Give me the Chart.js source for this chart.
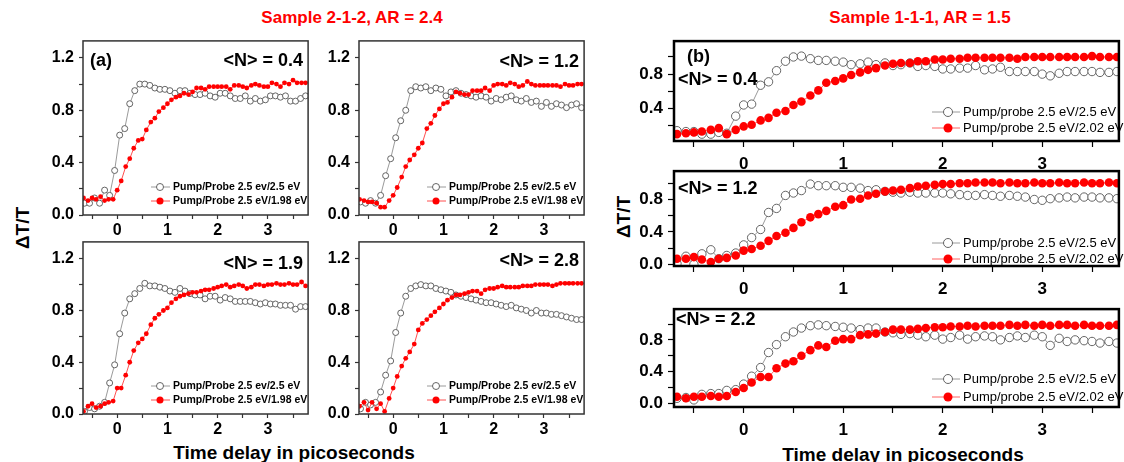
<!DOCTYPE html>
<html>
<head>
<meta charset="utf-8">
<script src="https://cdn.jsdelivr.net/npm/chart.js@4.4.0/dist/chart.umd.min.js"></script>
<style>
  body { margin: 0; background: #fff; width: 1124px; height: 462px; position: relative; overflow: hidden;
         font-family: Arial, "Liberation Sans", sans-serif; }
  .box { position: absolute; }
  .title { position: absolute; color: #f00; font-weight: bold; font-size: 17px; line-height: 1;
           transform: translate(-50%, -50%); white-space: nowrap; }
  .xlab { position: absolute; font-weight: bold; font-size: 19px; line-height: 1;
          transform: translate(-50%, -50%); white-space: nowrap; }
  .ylab { position: absolute; font-weight: bold; font-size: 19px; line-height: 1;
          transform: translate(-50%, -50%) rotate(-90deg); white-space: nowrap; }
</style>
</head>
<body>
<div class="title" style="left:352px; top:17px">Sample 2-1-2, AR = 2.4</div>
<div class="title" style="left:920px; top:17px">Sample 1-1-1, AR = 1.5</div>
<div class="ylab" style="left:22px; top:228px">ΔT/T</div>
<div class="ylab" style="left:623px; top:217px">ΔT/T</div>
<div class="xlab" style="left:294px; top:452px">Time delay in picoseconds</div>
<div class="xlab" style="left:903px; top:454px">Time delay in picoseconds</div>

<script>
// time grids (ps)
const leftOpenTimes = [-0.65, -0.55, -0.45, -0.35, -0.25, -0.15, -0.05, 0.05, 0.15, 0.25,
  0.35, 0.45, 0.55, 0.65, 0.75, 0.85, 0.95, 1.05, 1.15, 1.25,
  1.35, 1.45, 1.55, 1.65, 1.75, 1.85, 1.95, 2.05, 2.15, 2.25,
  2.35, 2.45, 2.55, 2.65, 2.75, 2.85, 2.95, 3.05, 3.15, 3.25,
  3.35, 3.45, 3.55, 3.65, 3.75];
const stepTimes = [-0.67, -0.58, -0.5, -0.42, -0.33, -0.25, -0.17, -0.08,
  0, 0.08, 0.17, 0.25, 0.33, 0.42, 0.5, 0.58, 0.67, 0.75, 0.83, 0.92,
  1, 1.08, 1.17, 1.25, 1.33, 1.42, 1.5, 1.58, 1.67, 1.75, 1.83, 1.92,
  2, 2.08, 2.17, 2.25, 2.33, 2.42, 2.5, 2.58, 2.67, 2.75, 2.83, 2.92,
  3, 3.08, 3.17, 3.25, 3.33, 3.42, 3.5, 3.58, 3.67, 3.75];

// Sample 2-1-2 (left, panel a)
const open04 = [0.09, 0.09, 0.13, 0.09, 0.19, 0.15, 0.34, 0.61, 0.66, 0.85,
  0.95, 1.00, 1.00, 0.99, 0.97, 0.96, 0.96, 0.95, 0.93, 0.95,
  0.95, 0.93, 0.92, 0.92, 0.93, 0.91, 0.90, 0.93, 0.93, 0.91,
  0.89, 0.89, 0.91, 0.87, 0.89, 0.87, 0.88, 0.91, 0.91, 0.90,
  0.91, 0.87, 0.87, 0.89, 0.91];
const red04 = [0.13, 0.11, 0.13, 0.12, 0.14, 0.11, 0.12, 0.12,
  0.19, 0.26, 0.37, 0.43, 0.51, 0.57, 0.58, 0.65, 0.71, 0.74, 0.79, 0.82,
  0.85, 0.88, 0.90, 0.91, 0.93, 0.92, 0.94, 0.97, 0.97, 0.96, 0.98, 0.98,
  0.98, 0.98, 0.98, 0.96, 0.99, 0.99, 0.98, 0.97, 0.99, 1.00, 0.99, 0.98,
  0.98, 1.01, 1.00, 0.98, 1.01, 1.00, 1.03, 1.01, 1.01, 1.01];
const open12 = [0.10, 0.09, 0.11, 0.09, 0.15, 0.30, 0.43, 0.59, 0.72, 0.80,
  0.95, 0.98, 0.97, 0.98, 0.95, 0.97, 0.96, 0.91, 0.94, 0.95,
  0.93, 0.92, 0.91, 0.90, 0.91, 0.90, 0.87, 0.89, 0.88, 0.90,
  0.91, 0.88, 0.87, 0.89, 0.86, 0.87, 0.83, 0.86, 0.83, 0.85,
  0.84, 0.82, 0.84, 0.85, 0.82];
const red12 = [0.12, 0.11, 0.10, 0.10, 0.09, 0.06, 0.06, 0.11,
  0.15, 0.21, 0.29, 0.37, 0.42, 0.46, 0.51, 0.55, 0.66, 0.70, 0.76, 0.81,
  0.85, 0.86, 0.90, 0.94, 0.93, 0.92, 0.92, 0.95, 0.95, 0.95, 0.97, 0.95,
  0.99, 1.00, 1.00, 0.99, 1.01, 1.00, 0.98, 0.99, 1.02, 1.00, 0.99, 0.99,
  0.99, 0.99, 0.99, 0.99, 0.98, 1.00, 0.99, 0.99, 1.00, 1.00];
const open19 = [0.02, 0.05, 0.04, 0.06, 0.09, 0.24, 0.38, 0.62, 0.78, 0.89,
  0.93, 0.97, 1.01, 0.99, 0.99, 0.98, 0.97, 0.95, 0.94, 0.97,
  0.95, 0.93, 0.92, 0.92, 0.89, 0.91, 0.91, 0.88, 0.90, 0.89,
  0.87, 0.87, 0.87, 0.87, 0.86, 0.85, 0.86, 0.85, 0.85, 0.84,
  0.84, 0.84, 0.81, 0.83, 0.83];
const red19 = [0.02, 0.06, 0.08, 0.05, 0.06, 0.08, 0.09, 0.10,
  0.20, 0.20, 0.30, 0.40, 0.49, 0.55, 0.58, 0.62, 0.69, 0.74, 0.77, 0.80,
  0.82, 0.86, 0.89, 0.91, 0.92, 0.93, 0.94, 0.94, 0.95, 0.96, 0.96, 0.97,
  0.98, 0.99, 1.00, 0.98, 0.99, 1.00, 0.99, 0.97, 0.98, 1.00, 1.00, 0.99,
  1.00, 1.00, 1.01, 1.00, 1.00, 1.01, 1.00, 1.00, 1.02, 0.99];
const open28 = [0.04, 0.09, 0.07, 0.09, 0.17, 0.30, 0.41, 0.63, 0.78, 0.91,
  0.97, 0.99, 1.00, 0.99, 0.99, 0.97, 0.96, 0.95, 0.94, 0.92,
  0.91, 0.90, 0.89, 0.88, 0.87, 0.86, 0.86, 0.85, 0.84, 0.83,
  0.84, 0.82, 0.81, 0.80, 0.78, 0.80, 0.78, 0.78, 0.77, 0.77,
  0.76, 0.75, 0.74, 0.73, 0.73];
const red28 = [0.06, 0.09, 0.03, 0.09, 0.04, 0.08, 0.02, 0.12,
  0.20, 0.29, 0.37, 0.43, 0.48, 0.54, 0.65, 0.70, 0.73, 0.76, 0.79, 0.82,
  0.85, 0.88, 0.90, 0.92, 0.92, 0.93, 0.94, 0.95, 0.95, 0.93, 0.96, 0.97,
  0.97, 0.98, 0.99, 0.98, 0.98, 0.98, 0.98, 0.99, 0.99, 0.99, 1.00, 1.00,
  1.00, 1.00, 0.99, 1.00, 1.01, 1.01, 1.01, 1.01, 1.01, 1.01];

// Sample 1-1-1 (right, panel b)
const openB04 = [0.14, 0.13, 0.13, 0.10, 0.10, 0.12, 0.11, 0.31,
  0.44, 0.45, 0.67, 0.71, 0.84, 0.95, 1.00, 1.01, 0.98, 0.96, 0.96, 0.95,
  0.94, 0.91, 0.92, 0.94, 0.91, 0.93, 0.90, 0.91, 0.93, 0.89, 0.90, 0.89,
  0.86, 0.86, 0.87, 0.87, 0.90, 0.85, 0.86, 0.88, 0.83, 0.83, 0.83, 0.83,
  0.80, 0.78, 0.81, 0.83, 0.83, 0.83, 0.83, 0.82, 0.82, 0.83];
const redB04 = [0.10, 0.11, 0.12, 0.13, 0.15, 0.17, 0.10, 0.15,
  0.19, 0.21, 0.26, 0.29, 0.35, 0.37, 0.44, 0.48, 0.55, 0.61, 0.70, 0.72,
  0.75, 0.79, 0.82, 0.85, 0.87, 0.90, 0.92, 0.93, 0.93, 0.95, 0.95, 0.97,
  0.97, 0.98, 0.98, 0.99, 0.99, 0.99, 0.99, 0.99, 0.99, 0.98, 1.00, 1.00,
  1.00, 1.00, 1.00, 1.00, 1.00, 1.00, 1.01, 1.00, 1.00, 1.00];
const openB12 = [0.01, 0.10, 0.00, 0.13, 0.18, 0.07, 0.11, 0.14,
  0.24, 0.33, 0.43, 0.64, 0.69, 0.85, 0.88, 0.91, 0.99, 0.97, 0.97, 0.97,
  0.95, 0.95, 0.94, 0.91, 0.92, 0.90, 0.89, 0.88, 0.89, 0.88, 0.88, 0.88,
  0.88, 0.87, 0.86, 0.85, 0.85, 0.86, 0.85, 0.84, 0.85, 0.84, 0.83, 0.80,
  0.79, 0.81, 0.82, 0.83, 0.82, 0.83, 0.83, 0.82, 0.82, 0.81];
const redB12 = [0.07, 0.07, 0.09, 0.06, 0.03, 0.07, 0.08, 0.11,
  0.17, 0.19, 0.23, 0.29, 0.35, 0.39, 0.45, 0.52, 0.58, 0.62, 0.66, 0.71,
  0.73, 0.80, 0.81, 0.85, 0.87, 0.90, 0.91, 0.92, 0.94, 0.96, 0.97, 0.98,
  0.99, 0.99, 1.00, 1.00, 1.01, 1.01, 1.01, 1.00, 1.01, 1.00, 1.00, 1.01,
  1.00, 1.00, 1.01, 1.00, 1.00, 1.01, 1.00, 1.00, 1.01, 1.00];
const openB22 = [0.06, 0.07, 0.04, 0.11, 0.12, 0.12, 0.16, 0.17,
  0.24, 0.34, 0.45, 0.64, 0.74, 0.84, 0.90, 0.95, 0.98, 0.99, 0.98, 0.97,
  0.96, 0.95, 0.93, 0.95, 0.95, 0.90, 0.89, 0.87, 0.88, 0.86, 0.84, 0.86,
  0.81, 0.83, 0.86, 0.81, 0.84, 0.85, 0.84, 0.80, 0.83, 0.85, 0.83, 0.86,
  0.84, 0.73, 0.82, 0.78, 0.80, 0.79, 0.78, 0.76, 0.78, 0.76];
const redB22 = [0.08, 0.06, 0.08, 0.08, 0.09, 0.08, 0.09, 0.14,
  0.19, 0.26, 0.33, 0.33, 0.44, 0.50, 0.53, 0.60, 0.67, 0.73, 0.71, 0.79,
  0.81, 0.81, 0.86, 0.87, 0.88, 0.90, 0.93, 0.93, 0.93, 0.94, 0.95, 0.96,
  0.96, 0.97, 0.97, 0.98, 0.97, 0.98, 0.98, 0.98, 0.99, 0.98, 0.99, 0.98,
  0.99, 0.98, 0.99, 0.99, 0.98, 0.99, 0.98, 0.98, 0.98, 0.99];

const leftLegend = ['Pump/Probe 2.5 ev/2.5 eV', 'Pump/Probe 2.5 eV/1.98 eV'];
const rightLegend = ['Pump/probe 2.5 eV/2.5 eV', 'Pump/probe 2.5 eV/2.02 eV'];

const AXW = 48, PAD = 3;

function zip(xs, ys) {
    return xs.map((x, i) => ({ x: x, y: ys[i] }));
}

function near(v, step) {
    return Math.abs(v / step - Math.round(v / step)) < 1e-6;
}

// frame, panel labels and inset legend
const panelPlugin = {
    id: 'panel',
    afterDraw(chart) {
        const o = chart.options.plugins.panel;
        const a = chart.chartArea;
        const ctx = chart.ctx;
        ctx.save();
        ctx.lineWidth = o.frameWidth;
        ctx.strokeStyle = o.frameColor;
        ctx.strokeRect(a.left, a.top, a.right - a.left, a.bottom - a.top);

        ctx.fillStyle = '#000';
        ctx.textBaseline = 'middle';
        o.notes.forEach(n => {
            ctx.font = n.font;
            ctx.textAlign = n.right ? 'right' : 'left';
            ctx.fillText(n.text, n.right ? a.right - n.dx : a.left + n.dx, a.top + n.dy);
        });

        const lg = o.legend;
        const tx = a.left + lg.dx;
        lg.rows.forEach((row, i) => {
            const ds = chart.data.datasets[lg.order[i]];
            const y = a.bottom - row;
            ctx.strokeStyle = ds.borderColor;
            ctx.lineWidth = ds.borderWidth;
            ctx.beginPath();
            ctx.moveTo(tx - lg.lineFrom, y);
            ctx.lineTo(tx - lg.lineTo, y);
            ctx.stroke();
            ctx.beginPath();
            ctx.arc(tx - lg.mark, y, lg.radius, 0, Math.PI * 2);
            ctx.fillStyle = ds.pointBackgroundColor;
            ctx.fill();
            if (ds.pointBorderWidth > 0) {
                ctx.lineWidth = ds.pointBorderWidth;
                ctx.strokeStyle = ds.pointBorderColor;
                ctx.stroke();
            }
            ctx.fillStyle = '#000';
            ctx.font = lg.font;
            ctx.textAlign = 'left';
            ctx.fillText(lg.labels[i], tx, y);
        });
        ctx.restore();
    }
};

function makePanel(p) {
    const w = p.R - p.L + AXW + PAD;
    const h = p.B - p.T + p.axh + PAD;
    const box = document.createElement('div');
    box.className = 'box';
    box.style.left = (p.L - AXW) + 'px';
    box.style.top = (p.T - PAD) + 'px';
    box.style.width = w + 'px';
    box.style.height = h + 'px';
    const canvas = document.createElement('canvas');
    canvas.width = w;
    canvas.height = h;
    box.appendChild(canvas);
    document.body.appendChild(box);

    const s = p.style;
    new Chart(canvas.getContext('2d'), {
        type: 'line',
        data: {
            datasets: [{
                label: p.legend[1],
                data: zip(p.redX, p.red),
                order: 0,
                borderColor: s.redLine,
                borderWidth: 0.9,
                pointRadius: s.redR,
                pointBackgroundColor: '#ff0000',
                pointBorderColor: '#ff0000',
                pointBorderWidth: 0,
                tension: 0
            }, {
                label: p.legend[0],
                data: zip(p.openX, p.open),
                order: 1,
                borderColor: '#808080',
                borderWidth: 0.8,
                pointRadius: s.openR,
                pointBackgroundColor: '#ffffff',
                pointBorderColor: '#555555',
                pointBorderWidth: 0.9,
                tension: 0
            }]
        },
        options: {
            responsive: false,
            animation: false,
            layout: { padding: { top: PAD, right: PAD, left: 0, bottom: 0 } },
            plugins: {
                legend: { display: false },
                tooltip: { enabled: false },
                panel: {
                    frameWidth: s.frameWidth,
                    frameColor: s.frameColor,
                    notes: p.notes,
                    legend: {
                        labels: p.legend,
                        order: [1, 0],
                        rows: p.legendRows,
                        dx: s.legendDx,
                        lineFrom: s.lineFrom,
                        lineTo: 3,
                        mark: s.mark,
                        radius: s.legendR,
                        font: s.legendFont
                    }
                }
            },
            scales: {
                x: {
                    type: 'linear',
                    min: p.xMin,
                    max: p.xMax,
                    afterFit: sc => { sc.height = p.axh; sc.paddingLeft = 0; sc.paddingRight = 0; },
                    ticks: {
                        stepSize: 0.5,
                        includeBounds: false,
                        autoSkip: false,
                        maxRotation: 0,
                        padding: s.xPad,
                        color: '#000',
                        font: { size: s.tickSize, weight: 'bold', family: 'Arial, "Liberation Sans"' },
                        callback: v => near(v, 1) ? String(Math.round(v)) : ''
                    },
                    grid: { drawOnChartArea: false, tickLength: s.tickLen, tickColor: s.frameColor, tickWidth: 1.2 },
                    border: { display: false }
                },
                y: {
                    min: p.yMin,
                    max: p.yMax,
                    afterFit: sc => { sc.width = AXW; sc.paddingTop = 0; sc.paddingBottom = 0; },
                    ticks: {
                        stepSize: 0.2,
                        includeBounds: false,
                        autoSkip: false,
                        padding: 5,
                        color: '#000',
                        font: { size: s.tickSize, weight: 'bold', family: 'Arial, "Liberation Sans"' },
                        callback: v => near(v, 0.4) ? (Math.abs(v) < 1e-9 ? '0.0' : v.toFixed(1)) : ''
                    },
                    grid: { drawOnChartArea: false, tickLength: s.tickLen, tickColor: s.frameColor, tickWidth: 1.2 },
                    border: { display: false }
                }
            }
        },
        plugins: [panelPlugin]
    });
}

const leftStyle = {
    openR: 3, redR: 2.4, redLine: '#ff3b3b', frameWidth: 1.5, frameColor: '#333',
    tickLen: 4, xPad: 2, tickSize: 16, legendDx: 90, lineFrom: 22, mark: 13,
    legendR: 3.5, legendFont: 'bold 10.5px Arial, "Liberation Sans"'
};
const rightStyle = {
    openR: 4.2, redR: 4.3, redLine: '#ff5050', frameWidth: 2.5, frameColor: '#000',
    tickLen: 6, xPad: 7, tickSize: 17, legendDx: 289, lineFrom: 31, mark: 15,
    legendR: 4.5, legendFont: '13px Arial, "Liberation Sans"'
};
const bigFont = 'bold 18px Arial, "Liberation Sans"';

const leftPanels = [
    { L: 83, T: 39, R: 310, B: 215, open: open04, red: red04,
      notes: [{ text: '(a)', dx: 7, dy: 20, font: bigFont }, { text: '<N> = 0.4', dx: 5, dy: 20, right: true, font: bigFont }] },
    { L: 359, T: 39, R: 586, B: 215, open: open12, red: red12,
      notes: [{ text: '<N> = 1.2', dx: 5, dy: 21, right: true, font: bigFont }] },
    { L: 83, T: 240, R: 310, B: 414, open: open19, red: red19,
      notes: [{ text: '<N> = 1.9', dx: 5, dy: 22, right: true, font: bigFont }] },
    { L: 359, T: 240, R: 586, B: 414, open: open28, red: red28,
      notes: [{ text: '<N> = 2.8', dx: 5, dy: 19, right: true, font: bigFont }] }
];
leftPanels.forEach(p => makePanel(Object.assign(p, {
    axh: 26, xMin: -0.68, xMax: 3.8, yMin: 0, yMax: 1.33,
    openX: leftOpenTimes, redX: stepTimes, legend: leftLegend,
    legendRows: [28, 14], style: leftStyle
})));

const rightPanels = [
    { T: 39, B: 141, yMin: 0.02, yMax: 1.185, open: openB04, red: redB04, legendRows: [29, 13],
      notes: [{ text: '(b)', dx: 13, dy: 16, font: bigFont }, { text: '<N> = 0.4', dx: 4, dy: 39, font: bigFont }] },
    { T: 169, B: 266, yMin: -0.02, yMax: 1.15, open: openB12, red: redB12, legendRows: [23, 7],
      notes: [{ text: '<N> = 1.2', dx: 4, dy: 18, font: bigFont }] },
    { T: 307, B: 407, yMin: -0.05, yMax: 1.19, open: openB22, red: redB22, legendRows: [28, 10],
      notes: [{ text: '<N> = 2.2', dx: 2, dy: 11, font: bigFont }] }
];
rightPanels.forEach(p => makePanel(Object.assign(p, {
    L: 674, R: 1121, axh: 32, xMin: -0.7, xMax: 3.77,
    openX: stepTimes, redX: stepTimes, legend: rightLegend, style: rightStyle
})));
</script>
</body>
</html>
